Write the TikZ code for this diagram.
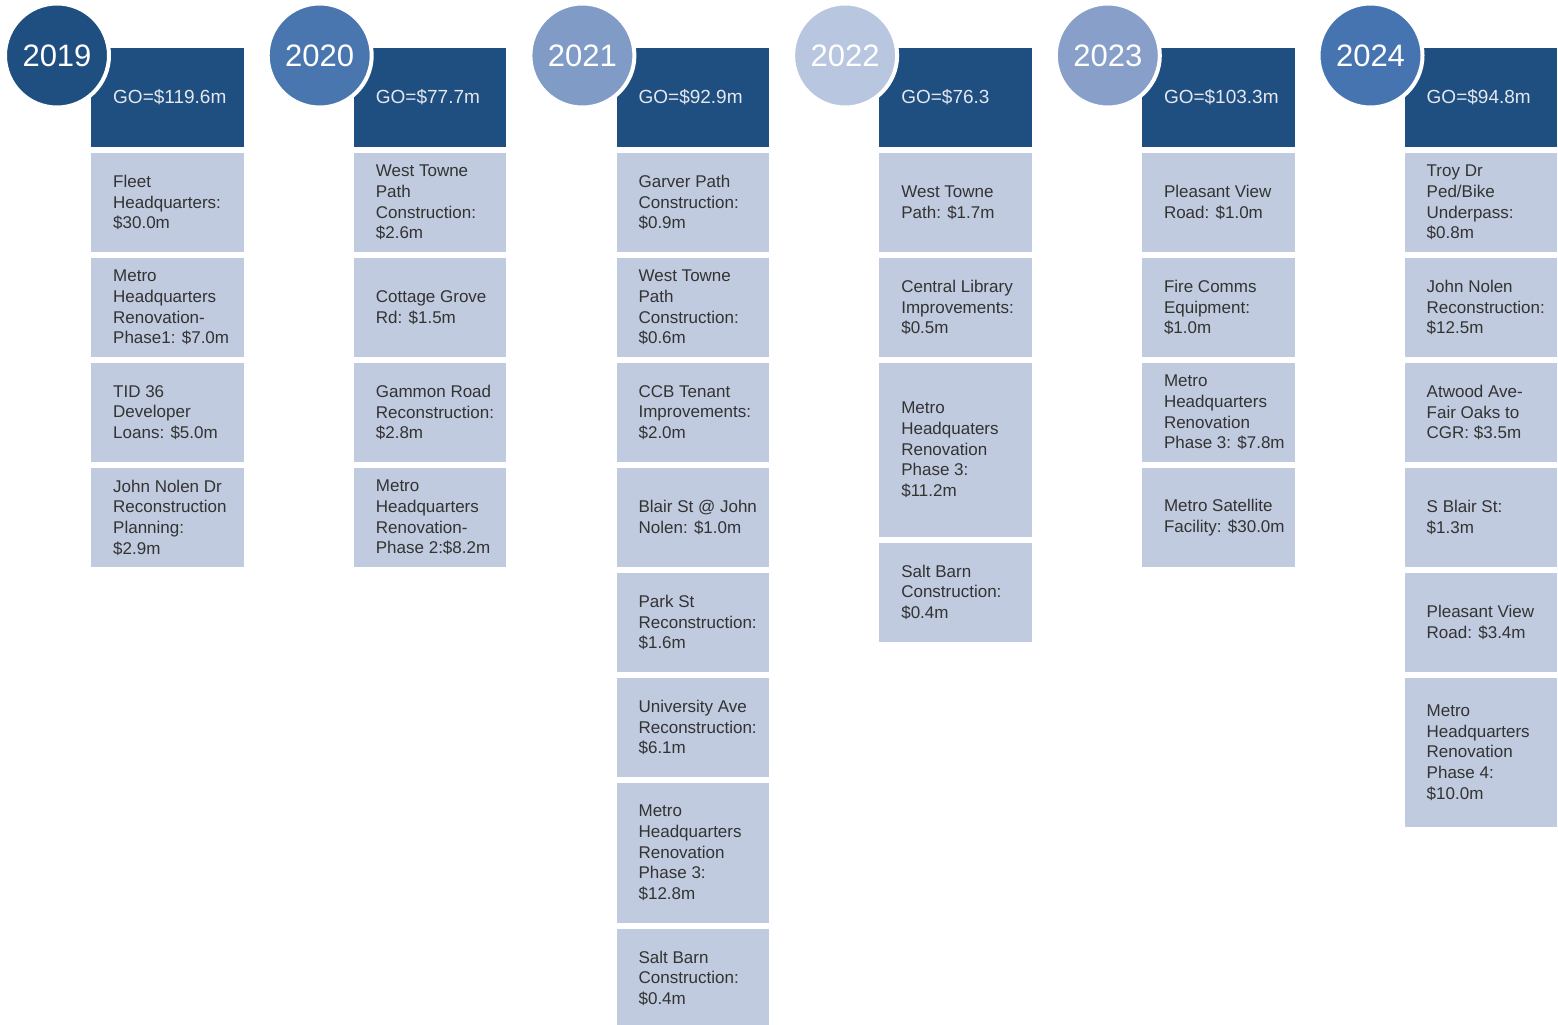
\documentclass[tikz,border=0pt]{standalone}
\usepackage{fontspec}
\setmainfont{Liberation Sans}
\usetikzlibrary{positioning}

\definecolor{hdrblue}{HTML}{1F4E80}
\definecolor{projfill}{HTML}{C0CBDF}
\definecolor{projgray}{HTML}{333333}
\definecolor{hdrwhite}{HTML}{E4E7EE}
\definecolor{yr19}{HTML}{1F4E80}
\definecolor{yr20}{HTML}{4A76B0}
\definecolor{yr21}{HTML}{7F9BC6}
\definecolor{yr22}{HTML}{B8C6DF}
\definecolor{yr23}{HTML}{879FC9}
\definecolor{yr24}{HTML}{4674B0}

\tikzset{
  hdrbox/.style={fill=hdrblue, anchor=north west, minimum width=152.5pt, minimum height=98.6pt, inner sep=0pt},
  hdrtext/.style={anchor=west, xshift=22pt, inner sep=0pt, text=hdrwhite, font=\fontsize{19}{23}\selectfont},
  projbox/.style={fill=projfill, minimum width=152.5pt, minimum height=98.6pt, inner sep=0pt},
  projtext/.style={anchor=west, xshift=22pt, align=left, inner sep=0pt, text=projgray, font=\fontsize{17}{20.7}\selectfont},
  yearcirc/.style={circle, draw=white, line width=4pt, minimum size=104pt, inner sep=0pt, text=white, font=\fontsize{31}{36}\selectfont}
}

\begin{document}
\begin{tikzpicture}[x=1pt,y=-1pt]
  \useasboundingbox (0,0) rectangle (1558,1025);

  % 2019
  \node[hdrbox] (h19) at (91,48) {};
  \node[hdrtext] at (h19.west) {GO=\$119.6m};
  \node[yearcirc, fill=yr19] (y19) at (57,55.5) {2019};
  \node[projbox, below=6pt of h19] (p19a) {};
  \node[projtext] at (p19a.west) {Fleet\\Headquarters:\\\$30.0m};
  \node[projbox, below=6pt of p19a] (p19b) {};
  \node[projtext] at (p19b.west) {Metro\\Headquarters\\Renovation-\\Phase1: \$7.0m};
  \node[projbox, below=6pt of p19b] (p19c) {};
  \node[projtext] at (p19c.west) {TID 36\\Developer\\Loans: \$5.0m};
  \node[projbox, below=6pt of p19c] (p19d) {};
  \node[projtext] at (p19d.west) {John Nolen Dr\\Reconstruction\\Planning:\\\$2.9m};

  % 2020
  \node[hdrbox] (h20) at (353.7,48) {};
  \node[hdrtext] at (h20.west) {GO=\$77.7m};
  \node[yearcirc, fill=yr20] (y20) at (319.7,55.5) {2020};
  \node[projbox, below=6pt of h20] (p20a) {};
  \node[projtext] at (p20a.west) {West Towne\\Path\\Construction:\\\$2.6m};
  \node[projbox, below=6pt of p20a] (p20b) {};
  \node[projtext] at (p20b.west) {Cottage Grove\\Rd: \$1.5m};
  \node[projbox, below=6pt of p20b] (p20c) {};
  \node[projtext] at (p20c.west) {Gammon Road\\Reconstruction:\\\$2.8m};
  \node[projbox, below=6pt of p20c] (p20d) {};
  \node[projtext] at (p20d.west) {Metro\\Headquarters\\Renovation-\\Phase 2:\$8.2m};

  % 2021
  \node[hdrbox] (h21) at (616.4,48) {};
  \node[hdrtext] at (h21.west) {GO=\$92.9m};
  \node[yearcirc, fill=yr21] (y21) at (582.4,55.5) {2021};
  \node[projbox, below=6pt of h21] (p21a) {};
  \node[projtext] at (p21a.west) {Garver Path\\Construction:\\\$0.9m};
  \node[projbox, below=6pt of p21a] (p21b) {};
  \node[projtext] at (p21b.west) {West Towne\\Path\\Construction:\\\$0.6m};
  \node[projbox, below=6pt of p21b] (p21c) {};
  \node[projtext] at (p21c.west) {CCB Tenant\\Improvements:\\\$2.0m};
  \node[projbox, below=6pt of p21c] (p21d) {};
  \node[projtext] at (p21d.west) {Blair St @ John\\Nolen: \$1.0m};
  \node[projbox, below=6pt of p21d] (p21e) {};
  \node[projtext] at (p21e.west) {Park St\\Reconstruction:\\\$1.6m};
  \node[projbox, below=6pt of p21e] (p21f) {};
  \node[projtext] at (p21f.west) {University Ave\\Reconstruction:\\\$6.1m};
  \node[projbox, minimum height=139.5pt, below=6pt of p21f] (p21g) {};
  \node[projtext] at (p21g.west) {Metro\\Headquarters\\Renovation\\Phase 3:\\\$12.8m};
  \node[projbox, below=6pt of p21g] (p21h) {};
  \node[projtext] at (p21h.west) {Salt Barn\\Construction:\\\$0.4m};

  % 2022
  \node[hdrbox] (h22) at (879.1,48) {};
  \node[hdrtext] at (h22.west) {GO=\$76.3};
  \node[yearcirc, fill=yr22] (y22) at (845.1,55.5) {2022};
  \node[projbox, below=6pt of h22] (p22a) {};
  \node[projtext] at (p22a.west) {West Towne\\Path: \$1.7m};
  \node[projbox, below=6pt of p22a] (p22b) {};
  \node[projtext] at (p22b.west) {Central Library\\Improvements:\\\$0.5m};
  \node[projbox, minimum height=173.5pt, below=6pt of p22b] (p22c) {};
  \node[projtext] at (p22c.west) {Metro\\Headquaters\\Renovation\\Phase 3:\\\$11.2m};
  \node[projbox, below=6pt of p22c] (p22d) {};
  \node[projtext] at (p22d.west) {Salt Barn\\Construction:\\\$0.4m};

  % 2023
  \node[hdrbox] (h23) at (1141.8,48) {};
  \node[hdrtext] at (h23.west) {GO=\$103.3m};
  \node[yearcirc, fill=yr23] (y23) at (1107.8,55.5) {2023};
  \node[projbox, below=6pt of h23] (p23a) {};
  \node[projtext] at (p23a.west) {Pleasant View\\Road: \$1.0m};
  \node[projbox, below=6pt of p23a] (p23b) {};
  \node[projtext] at (p23b.west) {Fire Comms\\Equipment:\\\$1.0m};
  \node[projbox, below=6pt of p23b] (p23c) {};
  \node[projtext] at (p23c.west) {Metro\\Headquarters\\Renovation\\Phase 3: \$7.8m};
  \node[projbox, below=6pt of p23c] (p23d) {};
  \node[projtext] at (p23d.west) {Metro Satellite\\Facility: \$30.0m};

  % 2024
  \node[hdrbox] (h24) at (1404.5,48) {};
  \node[hdrtext] at (h24.west) {GO=\$94.8m};
  \node[yearcirc, fill=yr24] (y24) at (1370.5,55.5) {2024};
  \node[projbox, below=6pt of h24] (p24a) {};
  \node[projtext] at (p24a.west) {Troy Dr\\Ped/Bike\\Underpass:\\\$0.8m};
  \node[projbox, below=6pt of p24a] (p24b) {};
  \node[projtext] at (p24b.west) {John Nolen\\Reconstruction:\\\$12.5m};
  \node[projbox, below=6pt of p24b] (p24c) {};
  \node[projtext] at (p24c.west) {Atwood Ave-\\Fair Oaks to\\CGR: \$3.5m};
  \node[projbox, below=6pt of p24c] (p24d) {};
  \node[projtext] at (p24d.west) {S Blair St:\\\$1.3m};
  \node[projbox, below=6pt of p24d] (p24e) {};
  \node[projtext] at (p24e.west) {Pleasant View\\Road: \$3.4m};
  \node[projbox, minimum height=148.5pt, below=6pt of p24e] (p24f) {};
  \node[projtext] at (p24f.west) {Metro\\Headquarters\\Renovation\\Phase 4:\\\$10.0m};
\end{tikzpicture}
\end{document}
